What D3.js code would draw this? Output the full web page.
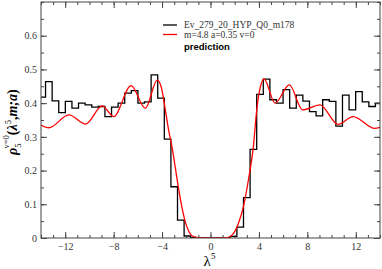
<!DOCTYPE html>
<html>
<head>
<meta charset="utf-8">
<script src="https://cdn.jsdelivr.net/npm/d3@7"></script>
<style>
  body { margin: 0; background: #fff; }
  svg { display: block; }
</style>
</head>
<body>
<script>
/* data */
const binWidth = 0.545;          // histogram bins, edges at k * binWidth
const firstBin = -26;            // index of the left-most bin
const histValues = [
  0.418, 0.464, 0.407, 0.372, 0.405, 0.385, 0.400, 0.395, 0.388, 0.390,
  0.360, 0.388, 0.400, 0.430, 0.437, 0.400, 0.404, 0.484, 0.415, 0.293,
  0.152, 0.053, 0.006, 0.001, 0, 0, 0, 0, 0.001, 0.005,
  0.032, 0.120, 0.263, 0.426, 0.471, 0.410, 0.400, 0.440, 0.385, 0.424,
  0.406, 0.375, 0.362, 0.410, 0.405, 0.332, 0.424, 0.380, 0.434, 0.404,
  0.390, 0.400
];

const predLambda = [-14, -13.35, -11.7, -10.3, -8.95, -8.0, -6.56, -5.38, -4.4, -4.05,
  -3.73, -3.46, -3.18, -2.9, -2.64, -2.37, -2.08, -1.8, -1.5, -1.0, -0.5,
  0.5, 1.35, 1.9, 2.31, 2.72, 3.13, 3.54, 3.82, 4.1, 4.43, 5.33, 6.51, 7.61,
  9.04, 10.54, 11.78, 13.57, 14];
const predValues = [0.335, 0.327, 0.365, 0.338, 0.392, 0.36, 0.452, 0.385, 0.468, 0.445,
  0.38, 0.32, 0.27, 0.207, 0.147, 0.093, 0.048, 0.02, 0.006, 0.001, 0,
  0, 0.001, 0.014, 0.044, 0.093, 0.172, 0.271, 0.38, 0.445, 0.471, 0.40, 0.454, 0.38,
  0.395, 0.337, 0.36, 0.325, 0.328];

const xMajor = [-12, -8, -4, 0, 4, 8, 12];
const yMajor = [0, 0.1, 0.2, 0.3, 0.4, 0.5, 0.6];
const legendLabels = ['Ev_279_20_HYP_Q0_m178', 'm=4.8 a=0.35 v=0', 'prediction'];

/* layout */
const width = 382, height = 269;
const plotLeft = 41, plotRight = 380, plotTop = 2, plotBottom = 238;
const axisColor = '#444';

const svg = d3.select('body').append('svg')
  .attr('width', width)
  .attr('height', height);

const x = d3.scaleLinear().domain([-14, 14]).range([plotLeft, plotRight]);
const y = d3.scaleLinear().domain([0, 0.7]).range([plotBottom, plotTop]);

svg.append('clipPath').attr('id', 'plot-clip')
  .append('rect')
  .attr('x', plotLeft).attr('y', plotTop)
  .attr('width', plotRight - plotLeft).attr('height', plotBottom - plotTop);

/* histogram (step) */
const histPoints = histValues.map((v, i) => [(firstBin + i) * binWidth, v]);
histPoints.push([(firstBin + histValues.length) * binWidth, histValues[histValues.length - 1]]);

svg.append('path')
  .datum(histPoints)
  .attr('clip-path', 'url(#plot-clip)')
  .attr('fill', 'none')
  .attr('stroke', '#000')
  .attr('stroke-width', 1.3)
  .attr('d', d3.line().x(d => x(d[0])).y(d => y(d[1])).curve(d3.curveStepAfter));

/* prediction curve */
svg.append('path')
  .datum(predLambda.map((l, i) => [l, predValues[i]]))
  .attr('clip-path', 'url(#plot-clip)')
  .attr('fill', 'none')
  .attr('stroke', '#ff0000')
  .attr('stroke-width', 1.3)
  .attr('d', d3.line().x(d => x(d[0])).y(d => y(d[1])).curve(d3.curveMonotoneX));

/* axes: ticks point inward on all four sides */
const serif = '"Liberation Serif", "Times New Roman", serif';

function styleAxis(g) {
  g.select('.domain').remove();
  g.selectAll('line').attr('stroke', axisColor);
  g.selectAll('text')
    .attr('font-family', serif)
    .attr('font-size', 10)
    .attr('fill', '#333');
}

const xMinorTicks = d3.range(-14, 14.5, 1);
const yMinorTicks = d3.range(0, 0.701, 0.05);

svg.append('g').attr('transform', `translate(0,${plotBottom})`)
  .call(d3.axisBottom(x).tickValues(xMinorTicks).tickSize(-3).tickFormat(''))
  .call(styleAxis);
svg.append('g').attr('transform', `translate(0,${plotBottom})`)
  .call(d3.axisBottom(x).tickValues(xMajor).tickSize(-6).tickPadding(5).tickFormat(d3.format('d')))
  .call(styleAxis);
svg.append('g').attr('transform', `translate(0,${plotTop})`)
  .call(d3.axisTop(x).tickValues(xMinorTicks).tickSize(-3).tickFormat(''))
  .call(styleAxis);
svg.append('g').attr('transform', `translate(0,${plotTop})`)
  .call(d3.axisTop(x).tickValues(xMajor).tickSize(-6).tickFormat(''))
  .call(styleAxis);

svg.append('g').attr('transform', `translate(${plotLeft},0)`)
  .call(d3.axisLeft(y).tickValues(yMinorTicks).tickSize(-3).tickFormat(''))
  .call(styleAxis);
svg.append('g').attr('transform', `translate(${plotLeft},0)`)
  .call(d3.axisLeft(y).tickValues(yMajor).tickSize(-6).tickPadding(4).tickFormat(d => d === 0 ? '0' : d3.format('.1f')(d)))
  .call(styleAxis);
svg.append('g').attr('transform', `translate(${plotRight},0)`)
  .call(d3.axisRight(y).tickValues(yMinorTicks).tickSize(-3).tickFormat(''))
  .call(styleAxis);
svg.append('g').attr('transform', `translate(${plotRight},0)`)
  .call(d3.axisRight(y).tickValues(yMajor).tickSize(-6).tickFormat(''))
  .call(styleAxis);

// frame
svg.append('rect')
  .attr('x', plotLeft).attr('y', plotTop)
  .attr('width', plotRight - plotLeft).attr('height', plotBottom - plotTop)
  .attr('fill', 'none')
  .attr('stroke', axisColor)
  .attr('stroke-width', 1);

/* axis titles */
const xTitle = svg.append('text')
  .attr('x', (plotLeft + plotRight) / 2 - 1)
  .attr('y', 266)
  .attr('text-anchor', 'middle')
  .attr('font-family', serif)
  .attr('font-size', 15)
  .attr('fill', '#000');
xTitle.append('tspan').text('λ');
xTitle.append('tspan').attr('font-size', 9).attr('dy', -7).text('5');

// rotated title, written from the bottom (y = 155) upward
const yTitle = svg.append('text')
  .attr('transform', 'translate(17,155) rotate(-90)')
  .attr('text-anchor', 'start')
  .attr('font-family', serif)
  .attr('font-size', 14)
  .attr('font-weight', 'bold')
  .attr('fill', '#000');
yTitle.append('tspan').attr('font-style', 'italic').text('ρ');
yTitle.append('tspan').attr('font-size', 8.5).attr('font-weight', 'normal').attr('dy', 4).text('5');
yTitle.append('tspan').attr('font-size', 8.5).attr('font-weight', 'normal').attr('dx', -5).attr('dy', -12).text('v=0');
yTitle.append('tspan').attr('dy', 8).text('(');
yTitle.append('tspan').attr('font-style', 'italic').text('λ');
yTitle.append('tspan').attr('font-size', 8.5).attr('font-weight', 'normal').attr('dy', -6).text('5');
yTitle.append('tspan').attr('dy', 6).text(',');
yTitle.append('tspan').attr('font-style', 'italic').text('m;a');
yTitle.append('tspan').text(')');

/* legend */
const legend = svg.append('g').attr('class', 'legend');
const legendColors = ['#000', '#ff0000'];
const legendRowY = [28, 37.5, 49.5];

legendColors.forEach((c, i) => {
  legend.append('line')
    .attr('x1', 163).attr('x2', 177)
    .attr('y1', legendRowY[i] - 3).attr('y2', legendRowY[i] - 3)
    .attr('stroke', c)
    .attr('stroke-width', 1.3);
});

legend.selectAll('text')
  .data(legendLabels)
  .enter().append('text')
  .attr('x', 184)
  .attr('y', (d, i) => legendRowY[i])
  .attr('font-family', (d, i) => i < 2 ? serif : '"Liberation Sans", Arial, sans-serif')
  .attr('font-weight', (d, i) => i < 2 ? 'normal' : 'bold')
  .attr('font-size', 9.5)
  .attr('fill', (d, i) => i < 2 ? '#333' : '#000')
  .text(d => d);
</script>
</body>
</html>
